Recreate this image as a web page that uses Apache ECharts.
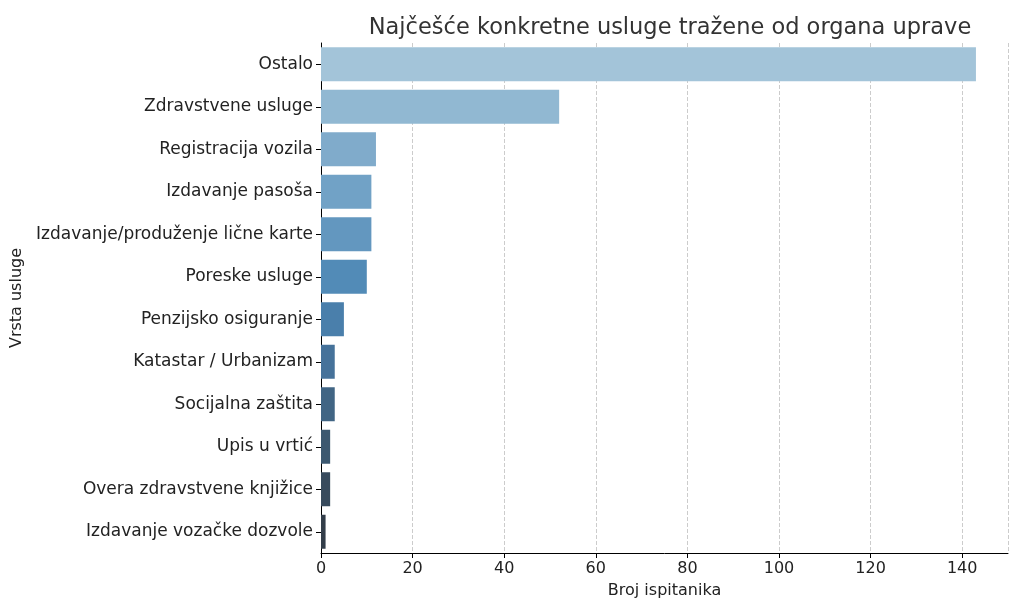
<!DOCTYPE html><html><head><meta charset="utf-8">
<script src="https://cdn.jsdelivr.net/npm/echarts@6/dist/echarts.min.js"></script>
<style>html,body{margin:0;background:#fff}#c{width:1024px;height:614px}</style></head><body><div id="c"></div>
<script>
const categories=["Ostalo","Zdravstvene usluge","Registracija vozila","Izdavanje pasoša","Izdavanje/produženje lične karte","Poreske usluge","Penzijsko osiguranje","Katastar / Urbanizam","Socijalna zaštita","Upis u vrtić","Overa zdravstvene knjižice","Izdavanje vozačke dozvole"];
const values=[143,52,12,11,11,10,5,3,3,2,2,1];
const colors=["#a3c4d9","#91b8d2","#80abcb","#71a2c6","#6397bf","#528bb7","#4a7fab","#46729a","#416584","#3c5870","#384b5d","#333e4a"];
const chart=echarts.init(document.getElementById('c'));
const font="DejaVu Sans";
chart.setOption({
 textStyle:{fontFamily:font},
 title:{text:"Najčešće konkretne usluge tražene od organa uprave",left:665,top:12,textAlign:'center',textStyle:{fontFamily:font,fontSize:22.5,fontWeight:'normal',color:'#333'}},
 grid:{left:321,right:16,top:43,bottom:61},
 xAxis:{type:'value',min:0,max:150,interval:20,name:'Broj ispitanika',nameLocation:'middle',nameGap:30,
  nameTextStyle:{fontSize:16,color:'#222'},
  axisLine:{show:true,lineStyle:{color:'#000'}},axisTick:{show:true,lineStyle:{color:'#000'}},
  axisLabel:{fontSize:16,color:'#222',showMaxLabel:false},
  splitLine:{show:true,lineStyle:{type:'dashed',color:'#ccc'}}},
 yAxis:{type:'category',data:categories,inverse:true,name:'Vrsta usluge',nameLocation:'middle',nameGap:290,
  nameTextStyle:{fontSize:16,color:'#222'},
  axisLine:{show:true,lineStyle:{color:'#000'}},axisTick:{show:true,alignWithLabel:true,lineStyle:{color:'#000'}},
  axisLabel:{fontSize:17,color:'#222'}},
 series:[{type:'bar',barCategoryGap:'20%',data:values.map((v,i)=>({value:v,itemStyle:{color:colors[i]}}))}]
});
</script></body></html>
